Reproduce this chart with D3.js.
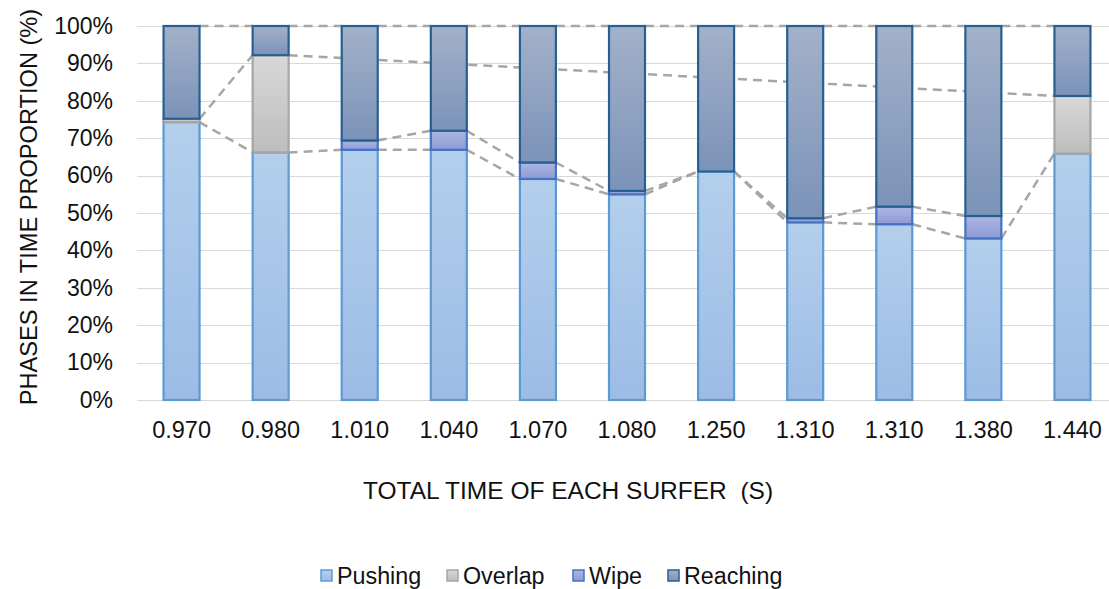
<!DOCTYPE html>
<html>
<head>
<meta charset="utf-8">
<script src="https://cdn.jsdelivr.net/npm/d3@7"></script>
<style>
  html, body { margin: 0; padding: 0; background: #fff; }
  svg { display: block; font-family: 'Liberation Sans', Arial, sans-serif; }
</style>
</head>
<body>
<svg id="chart" width="1109" height="589"></svg>
<script>
// total time of each surfer (s) - note 1.310 appears twice
const categories = ['0.970', '0.980', '1.010', '1.040', '1.070', '1.080', '1.250', '1.310', '1.310', '1.380', '1.440'];

// phase proportions in %, null = no value (series line skips it)
const pushing = [74.3, 66.2, 66.9, 66.9, 59.1, 55.0, 61.1, 47.5, 47.0, 43.2, 65.9];
const overlap = [0.9, 26.0, null, null, null, null, null, null, null, null, 15.4];
const wipe = [null, null, 2.5, 5.1, 4.4, 0.9, 0, 1.1, 4.7, 6.0, null];
const reaching = [24.8, 7.8, 30.6, 28.0, 36.5, 44.1, 38.9, 51.4, 48.3, 50.8, 18.7];

const seriesNames = ['Pushing', 'Overlap', 'Wipe', 'Reaching'];
const yTicks = [0, 10, 20, 30, 40, 50, 60, 70, 80, 90, 100];

const margin = { top: 26, right: -8, bottom: 189, left: 137 },
  width = 1109,
  height = 589;

const styles = {
  Pushing: { top: '#b4cfec', bottom: '#9cbce6', stroke: '#5b9bd5' },
  Overlap: { top: '#d8d8d8', bottom: '#bdbdbd', stroke: '#a5a5a5' },
  Wipe: { top: '#adb6e2', bottom: '#8d9bd5', stroke: '#4472c4' },
  Reaching: { top: '#a3b1c9', bottom: '#7b93b8', stroke: '#275f92' }
};

const textColor = '#111';

const svg = d3.select('#chart');

const defs = svg.append('defs');
seriesNames.forEach(name => {
  const g = defs
    .append('linearGradient')
    .attr('id', 'grad-' + name)
    .attr('x1', 0)
    .attr('y1', 0)
    .attr('x2', 0)
    .attr('y2', 1);
  g.append('stop').attr('offset', '0%').attr('stop-color', styles[name].top);
  g.append('stop').attr('offset', '100%').attr('stop-color', styles[name].bottom);
});

const values = [pushing, overlap, wipe, reaching];
const rows = categories.map((c, i) => {
  const row = { i, cat: c };
  seriesNames.forEach((s, k) => (row[s] = values[k][i]));
  return row;
});

const stack = d3
  .stack()
  .keys(seriesNames)
  .value((d, key) => d[key] || 0);
const stacked = stack(rows);

const x = d3
  .scaleBand()
  .domain(categories.map((c, i) => i))
  .range([margin.left, width - margin.right])
  .paddingInner(0.596)
  .paddingOuter(0.298);

const y = d3
  .scaleLinear()
  .domain([0, 100])
  .range([height - margin.bottom, margin.top]);

// gridlines
svg
  .append('g')
  .selectAll('line')
  .data(yTicks)
  .join('line')
  .attr('x1', margin.left)
  .attr('x2', width - margin.right)
  .attr('y1', d => Math.round(y(d)) + 0.5)
  .attr('y2', d => Math.round(y(d)) + 0.5)
  .attr('stroke', '#d9d9d9')
  .attr('stroke-width', 1);

// y axis labels
svg
  .append('g')
  .attr('transform', `translate(${margin.left - 21},0)`)
  .call(d3.axisLeft(y).tickValues(yTicks).tickFormat(d => d + '%').tickSize(0))
  .call(g => g.select('.domain').remove())
  .selectAll('text')
  .attr('font-size', 23)
  .attr('font-family', "'Liberation Sans', Arial, sans-serif")
  .attr('fill', textColor);

// series lines (dashed), connecting tops of same series, skipping nulls
const seriesLines = svg.append('g');
stacked.forEach((layer, k) => {
  const pts = layer
    .map((d, i) => ({ i, top: d[1], v: values[k][i] }))
    .filter(p => p.v !== null);
  for (let j = 0; j < pts.length - 1; j++) {
    const a = pts[j],
      b = pts[j + 1];
    seriesLines
      .append('line')
      .attr('x1', x(a.i) + x.bandwidth())
      .attr('y1', y(a.top))
      .attr('x2', x(b.i))
      .attr('y2', y(b.top))
      .attr('stroke', '#a6a6a6')
      .attr('stroke-width', 2.5)
      .attr('stroke-dasharray', '9,6');
  }
});

// bars
svg
  .append('g')
  .selectAll('g')
  .data(stacked)
  .join('g')
  .each(function (layer) {
    const name = layer.key;
    d3.select(this)
      .selectAll('rect')
      .data(layer.filter(d => d[1] - d[0] > 0))
      .join('rect')
      .attr('x', d => x(d.data.i))
      .attr('y', d => y(d[1]))
      .attr('width', x.bandwidth())
      .attr('height', d => y(d[0]) - y(d[1]))
      .attr('fill', `url(#grad-${name})`)
      .attr('stroke', styles[name].stroke)
      .attr('stroke-width', 2.2);
  });

// x axis labels
svg
  .append('g')
  .attr('transform', `translate(0,${height - margin.bottom + 18})`)
  .call(d3.axisBottom(x).tickFormat(i => categories[i]).tickSize(0))
  .call(g => g.select('.domain').remove())
  .selectAll('text')
  .attr('font-size', 23.5)
  .attr('font-family', "'Liberation Sans', Arial, sans-serif")
  .attr('fill', textColor);

// axis titles
svg
  .append('text')
  .attr('x', 568)
  .attr('y', 499)
  .attr('text-anchor', 'middle')
  .attr('font-size', 24.5)
  .attr('fill', textColor)
  .attr('xml:space', 'preserve')
  .text('TOTAL TIME OF EACH SURFER  (S)');

svg
  .append('text')
  .attr('transform', 'translate(37,207) rotate(-90)')
  .attr('text-anchor', 'middle')
  .attr('font-size', 23.6)
  .attr('fill', textColor)
  .text('PHASES IN TIME PROPORTION (%)');

// legend
const legendX = [321, 447, 573, 668];
const legend = svg
  .append('g')
  .selectAll('g')
  .data(seriesNames)
  .join('g')
  .attr('transform', (d, i) => `translate(${legendX[i]},575)`);

legend
  .append('rect')
  .attr('x', 0)
  .attr('y', -5)
  .attr('width', 11)
  .attr('height', 11)
  .attr('fill', d => `url(#grad-${d})`)
  .attr('stroke', d => styles[d].stroke)
  .attr('stroke-width', 1.5);

legend
  .append('text')
  .attr('x', 16)
  .attr('y', 1)
  .attr('dy', '0.35em')
  .attr('font-size', 23.3)
  .attr('fill', textColor)
  .text(d => d);
</script>
</body>
</html>
